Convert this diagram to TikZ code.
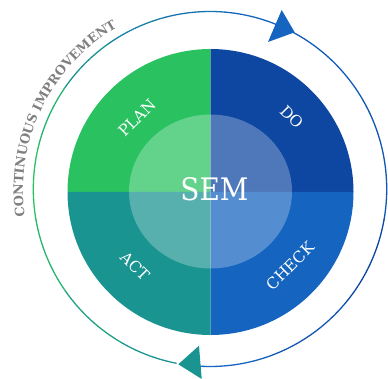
\documentclass[tikz,border=0pt]{standalone}
\usepackage{fontspec}
\setmainfont{DejaVu Serif}
\usetikzlibrary{decorations.text}
\definecolor{cgreen}{HTML}{2AC261}
\definecolor{cnavy}{HTML}{0D47A1}
\definecolor{cblue}{HTML}{1565C0}
\definecolor{cteal}{HTML}{1A9490}
\definecolor{cgreyt}{HTML}{808080}
\newcommand{\ringpart}[3]{\draw[ringline,draw=#3] (210,189) ++(#1:176.7pt and 177.5pt) arc[start angle=#1,end angle=#2,x radius=176.7pt,y radius=177.5pt];}
\tikzset{
  x=1pt,y=-1pt,
  ringline/.style={line width=1.3pt,line cap=round},
  seglabel/.style={text=white,font=\fontsize{15.5}{15.5}\selectfont},
  centrelabel/.style={text=white,font=\fontsize{31}{31}\selectfont}
}
\begin{document}
\begin{tikzpicture}
\useasboundingbox (0,0) rectangle (388,379);
% quadrants
\fill[cgreen] (210.5,192) -- (67.5,192) arc[start angle=180,end angle=90,radius=143pt] -- cycle;
\fill[cnavy] (210.5,192) -- (210.5,49) arc[start angle=90,end angle=0,radius=143pt] -- cycle;
\fill[cblue] (210.5,192) -- (353.5,192) arc[start angle=0,end angle=-90,radius=143pt] -- cycle;
\fill[cteal] (210.5,192) -- (210.5,335) arc[start angle=270,end angle=180,radius=143pt] -- cycle;
% inner disc
\fill[white,opacity=0.27] (210.5,191.5) ellipse[x radius=81.5pt,y radius=77pt];
% ring: blue half
\foreach \a/\b/\c in {62/30/cblue!70!cnavy,30/-10/cblue!50!cnavy,-10/-40/cnavy,-40/-70/cblue!50!cnavy,-70/-98/cblue}{\ringpart{\a}{\b}{\c}}
% ring: green half
\foreach \a/\b/\c in {259/240/cteal,240/215/cteal!70!cgreen,215/190/cteal!25!cgreen,190/165/cgreen,165/145/cgreen!70!cteal,145/125/cteal,125/105/cteal!60!cblue,105/85/cteal!30!cblue,85/62/cblue}{\ringpart{\a}{\b}{\c}}
% arrowheads
\fill[cblue] (281.7,10) -- (294.7,32.3) -- (268,42) -- cycle;
\fill[cteal] (199,345.7) -- (178.3,364.3) -- (201.7,379) -- cycle;
% labels
\node[seglabel,rotate=45] (plan) at (137,118) {PLAN};
\node[seglabel,rotate=-45] (do) at (291.7,117) {DO};
\node[seglabel,rotate=-45] (act) at (135,266) {ACT};
\node[seglabel,rotate=45] (check) at (290,266) {CHECK};
\node[centrelabel] (sem) at (214.5,189) {\scalebox{0.9}[1]{SEM}};
% curved caption
\path[decorate,decoration={text along path,text align=center,
  text={|\fontsize{12.8}{12.8}\selectfont\bfseries\color{cgreyt}|CONTINUOUS IMPROVEMENT}}]
  (210,190) ++(196.5:187pt) arc[start angle=196.5,end angle=111.5,radius=187pt];
\end{tikzpicture}
\end{document}
